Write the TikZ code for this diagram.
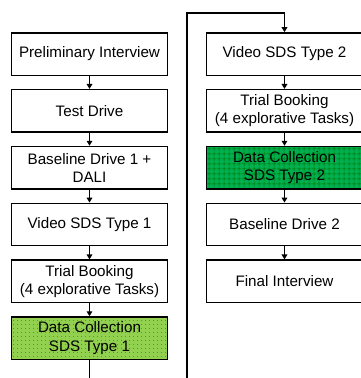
\documentclass[tikz,border=0pt]{standalone}
\usepackage{fontspec}
\setmainfont{Liberation Sans}
\usepackage{tikz}
\usetikzlibrary{arrows.meta, positioning, patterns.meta}
\definecolor{lightgrn}{RGB}{146,208,80}
\definecolor{darkgrn}{RGB}{0,176,80}

\tikzdeclarepattern{
  name=sparsedots,
  type=uncolored,
  bottom left={(0pt,0pt)},
  top right={(2.9pt,2.9pt)},
  tile size={(2.9pt,2.9pt)},
  code={\fill (1.45pt,1.45pt) circle (0.35pt);}
}
\tikzdeclarepattern{
  name=sparsegrid,
  type=uncolored,
  bottom left={(0pt,0pt)},
  top right={(3.6pt,3.6pt)},
  tile size={(3.6pt,3.6pt)},
  code={\draw[line width=0.3pt] (0pt,1.8pt) -- (3.6pt,1.8pt) (1.8pt,0pt) -- (1.8pt,3.6pt);}
}

\begin{document}
\begin{tikzpicture}[x=0.025cm, y=-0.025cm,
  stage/.style={rectangle, draw=black, line width=1pt, fill=white,
    minimum width=3.9cm, minimum height=1.06cm, inner sep=1pt,
    align=center, font=\fontsize{10.8}{13}\selectfont},
  collect1/.style={stage, preaction={fill=lightgrn},
    pattern={sparsedots}, pattern color=green!35!black},
  collect2/.style={stage, preaction={fill=darkgrn},
    pattern={sparsegrid}, pattern color=green!45!black},
  arr/.style={-{Triangle[length=3.5pt, width=4pt]}, line width=1pt},
  node distance=0.325cm,
]
\useasboundingbox (0,0) rectangle (361,378);

% first session
\node[stage] (prelim) at (89.5,54) {Preliminary Interview};
\node[stage, below=of prelim] (testdrive) {Test Drive};
\node[stage, below=of testdrive] (base1) {Baseline Drive 1 +\\DALI};
\node[stage, below=of base1] (video1) {Video SDS Type 1};
\node[stage, below=of video1] (trial1) {Trial Booking\\(4 explorative Tasks)};
\node[collect1, below=of trial1] (data1) {Data Collection\\SDS Type 1};

% second session
\node[stage] (video2) at (284.5,54) {Video SDS Type 2};
\node[stage, below=of video2] (trial2) {Trial Booking\\(4 explorative Tasks)};
\node[collect2, below=of trial2] (data2) {Data Collection\\SDS Type 2};
\node[stage, below=of data2] (base2) {Baseline Drive 2};
\node[stage, below=of base2] (final) {Final Interview};

\draw[arr] (prelim) -- (testdrive);
\draw[arr] (testdrive) -- (base1);
\draw[arr] (base1) -- (video1);
\draw[arr] (video1) -- (trial1);
\draw[arr] (trial1) -- (data1);

\coordinate (turnA) at (89.5,400);
\coordinate (turnB) at (187,400);
\coordinate (turnC) at (187,13);
\coordinate (turnD) at (284.5,13);
\draw[arr] (data1) -- (turnA) -- (turnB) -- (turnC) -- (turnD) -- (video2);

\draw[arr] (video2) -- (trial2);
\draw[arr] (trial2) -- (data2);
\draw[arr] (data2) -- (base2);
\draw[arr] (base2) -- (final);

\end{tikzpicture}
\end{document}
